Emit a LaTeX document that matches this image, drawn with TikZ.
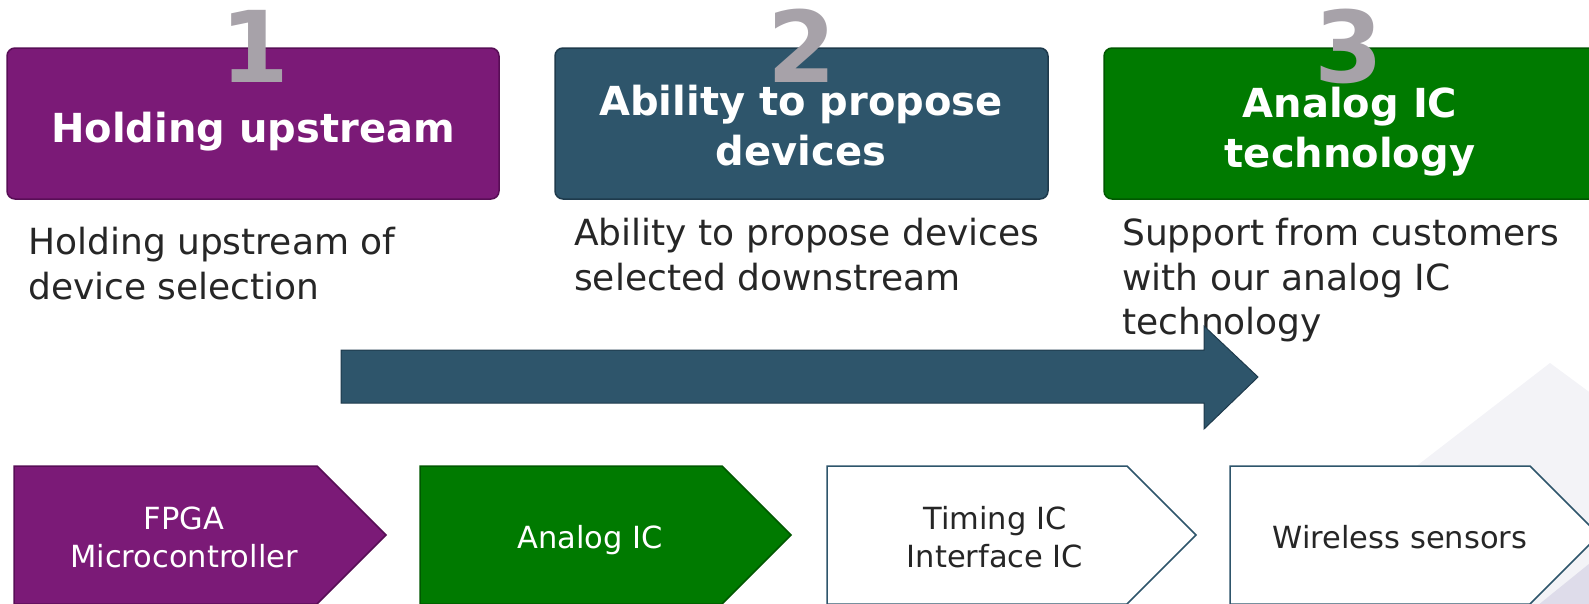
\documentclass[tikz,border=0pt]{standalone}
\usepackage{fontspec}
\setmainfont{DejaVu Sans}
\definecolor{cPurple}{RGB}{123,26,119}
\definecolor{cPurpleD}{RGB}{88,14,86}
\definecolor{cSlate}{RGB}{46,85,107}
\definecolor{cSlateD}{RGB}{30,58,76}
\definecolor{cGreen}{RGB}{0,122,0}
\definecolor{cGreenD}{RGB}{0,88,0}
\definecolor{cNum}{RGB}{167,162,169}
\definecolor{cText}{RGB}{38,38,38}
\definecolor{cHaze}{RGB}{243,243,247}
\definecolor{cHazeD}{RGB}{222,220,234}
\begin{document}
\begin{tikzpicture}[x=1pt,y=-1pt,
  card/.style={rounded corners=8pt, line width=1.5pt},
  numtxt/.style={anchor=base, inner sep=0, text=cNum, font=\fontsize{99}{99}\selectfont\bfseries},
  titletxt/.style={anchor=base, inner sep=0, text=white, font=\fontsize{40}{50}\selectfont\bfseries},
  desctxt/.style={anchor=base west, inner sep=0, text=cText, font=\fontsize{36}{45}\selectfont},
  chevtxt/.style={anchor=base, inner sep=0, font=\fontsize{30.5}{38}\selectfont},
  chev/.style={line width=1.5pt, line join=miter},
  bigarrow/.style={fill=cSlate, draw=cSlateD, line width=1pt}]
\useasboundingbox (0,0) rectangle (1589,603);

% faint backdrop planes in the lower right corner
\fill[cHaze] (1550,363) -- (1600,400) -- (1600,610) -- (1230,610) -- cycle;
\fill[cHazeD] (1600,555) -- (1600,610) -- (1532,610) -- cycle;

% three headline cards
\draw[card, fill=cPurple, draw=cPurpleD] (7,48) rectangle (499,199);
\draw[card, fill=cSlate, draw=cSlateD] (555,48) rectangle (1048,199);
\draw[card, fill=cGreen, draw=cGreenD] (1104,48) rectangle (1597,199);

\node[numtxt] (num1) at (255,82) {1};
\node[numtxt] (num2) at (802,82) {2};
\node[numtxt] (num3) at (1349,82) {3};

\node[titletxt] (title1) at (253,142) {Holding upstream};
\node[titletxt] (title2a) at (801,115) {Ability to propose};
\node[titletxt] (title2b) at (801,165) {devices};
\node[titletxt] (title3a) at (1350,117) {Analog IC};
\node[titletxt] (title3b) at (1350,167) {technology};

% descriptions under the cards
\node[desctxt] (desc1a) at (28,254) {Holding upstream of};
\node[desctxt] (desc1b) at (28,299) {device selection};
\node[desctxt] (desc2a) at (574,245) {Ability to propose devices};
\node[desctxt] (desc2b) at (574,290) {selected downstream};
\node[desctxt] (desc3a) at (1122,245) {Support from customers};
\node[desctxt] (desc3b) at (1122,290) {with our analog IC};
\node[desctxt] (desc3c) at (1122,334) {technology};

% broad arrow pointing downstream
\draw[bigarrow] (341,350) -- (1204,350) -- (1204,326) -- (1258,377)
  -- (1204,429) -- (1204,403) -- (341,403) -- cycle;

% row of device chevrons
\draw[chev, fill=cPurple, draw=cPurpleD] (14,466) -- (317,466) -- (386,535) -- (317,604) -- (14,604) -- cycle;
\draw[chev, fill=cGreen, draw=cGreenD] (420,466) -- (722,466) -- (791,535) -- (722,604) -- (420,604) -- cycle;
\draw[chev, fill=white, draw=cSlate] (827,466) -- (1127,466) -- (1196,535) -- (1127,604) -- (827,604) -- cycle;
\draw[chev, fill=white, draw=cSlate] (1230,466) -- (1530,466) -- (1599,535) -- (1530,604) -- (1230,604) -- cycle;

\node[chevtxt, text=white] (fpga) at (184,529) {FPGA};
\node[chevtxt, text=white] (mcu) at (184,567) {Microcontroller};
\node[chevtxt, text=white] (analog) at (590,548) {Analog IC};
\node[chevtxt, text=cText] (timing) at (995,529) {Timing IC};
\node[chevtxt, text=cText] (iface) at (995,567) {Interface IC};
\node[chevtxt, text=cText] (wireless) at (1400,548) {Wireless sensors};
\end{tikzpicture}
\end{document}
